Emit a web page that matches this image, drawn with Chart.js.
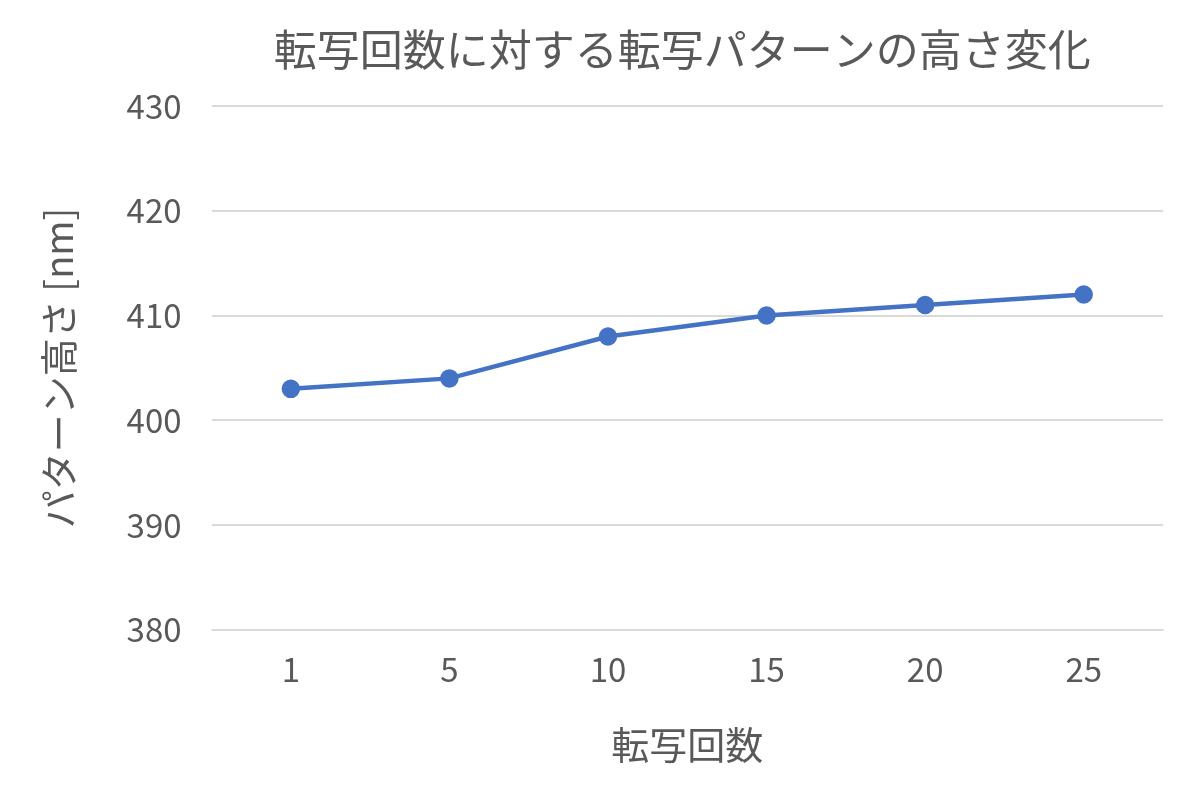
<!DOCTYPE html>
<html><head><meta charset="utf-8">
<script src="https://cdn.jsdelivr.net/npm/chart.js@4/dist/chart.umd.min.js"></script>
<style>body{margin:0;background:#fff}</style></head>
<body><canvas id="c" width="1201" height="800"></canvas>
<script>
const categories = ['1','5','10','15','20','25'];
const heights = [403,404,408,410,411,412];
const titleText = '転写回数に対する転写パターンの高さ変化';
const xTitle = '転写回数';
const yTitle = 'パターン高さ [nm]';
const font = "'Noto Sans CJK JP', 'Noto Sans', sans-serif";
const areaTitle = {
  id: 'areaTitle',
  afterDraw(chart) {
    const ctx = chart.ctx, a = chart.chartArea;
    ctx.save();
    ctx.fillStyle = '#595959';
    ctx.font = '43px ' + font;
    ctx.textAlign = 'center';
    ctx.textBaseline = 'middle';
    ctx.fillText(titleText, (a.left + a.right) / 2 - 5, 50);
    ctx.restore();
  }
};
new Chart(document.getElementById('c'), {
  type: 'line',
  data: { labels: categories, datasets: [{ data: heights, borderColor: '#4472C4', backgroundColor: '#4472C4', borderWidth: 4.5, pointRadius: 7, pointHoverRadius: 7, tension: 0 }] },
  options: {
    responsive: false, animation: false,
    layout: { padding: { left: 32, right: 38, top: 106, bottom: 29 } },
    plugins: { legend: { display: false }, tooltip: { enabled: false }, title: { display: false } },
    scales: {
      x: { offset: true, grid: { display: false }, border: { color: '#d9d9d9' },
        ticks: { color: '#595959', font: { family: font, size: 33 }, padding: 12 },
        title: { display: true, text: xTitle, color: '#595959', font: { family: font, size: 38 }, padding: { top: 20 } } },
      y: { min: 380, max: 430, grid: { color: '#d9d9d9', lineWidth: 2, drawTicks: false }, border: { display: false },
        ticks: { stepSize: 10, color: '#595959', font: { family: font, size: 33 }, padding: 30 },
        title: { display: true, text: yTitle, color: '#595959', font: { family: font, size: 38 }, padding: { bottom: 15 } } }
    }
  },
  plugins: [areaTitle]
});
</script></body></html>
